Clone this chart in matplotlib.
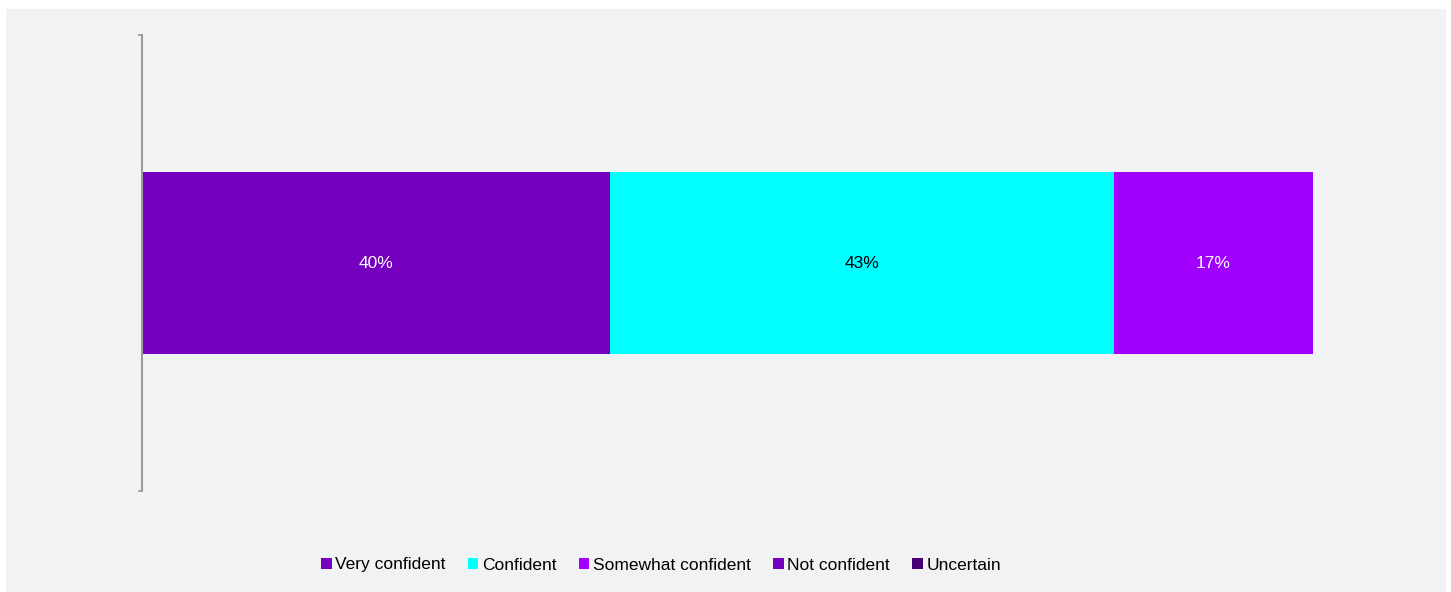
import matplotlib.pyplot as plt
from matplotlib.patches import Rectangle

categories = ['Very confident', 'Confident', 'Somewhat confident', 'Not confident', 'Uncertain']
values = [40, 43, 17, 0, 0]
colors = ['#7500C0', '#00FFFF', '#A100FF', '#7500C0', '#460073']
label_colors = ['white', 'black', 'white', 'white', 'white']

plt.rcParams['font.family'] = ['Liberation Sans', 'DejaVu Sans']

fig = plt.figure(figsize=(14.51, 5.92), dpi=100)
fig.patch.set_facecolor('white')
# light grey panel behind the chart
fig.patches.append(Rectangle((6 / 1451, 0), 1440 / 1451, 583 / 592,
                             transform=fig.transFigure, facecolor='#F1F2F4',
                             edgecolor='none', zorder=-1))

ax = fig.add_axes([142 / 1451, 1 - 491 / 592, 1171 / 1451, 456 / 592])
ax.set_facecolor('none')
ax.set_zorder(2)

left = 0
for cat, val, col, lc in zip(categories, values, colors, label_colors):
    ax.barh(0, val, left=left, height=0.4, color=col, label=cat)
    if val > 0:
        ax.text(left + val / 2, 0, f'{val}%', ha='center', va='center',
                color=lc, fontsize=12.5)
    left += val

ax.set_xlim(0, 100)
ax.set_ylim(-0.5, 0.5)
ax.set_xticks([])
ax.set_yticks([-0.5, 0.5])
ax.set_yticklabels([])
ax.tick_params(axis='y', length=3, width=1.2, color='#9A9A9A', direction='out')
for side in ['top', 'right', 'bottom']:
    ax.spines[side].set_visible(False)
ax.spines['left'].set_color('#9A9A9A')
ax.spines['left'].set_linewidth(1.5)

leg = fig.legend(loc='center', bbox_to_anchor=(661 / 1451, 1 - 565 / 592),
                 ncol=5, frameon=False, fontsize=12.5, handlelength=0.6,
                 handleheight=0.6, handletextpad=0.2, columnspacing=1.3)
leg.set_zorder(3)

plt.savefig('out.png', dpi=100)
